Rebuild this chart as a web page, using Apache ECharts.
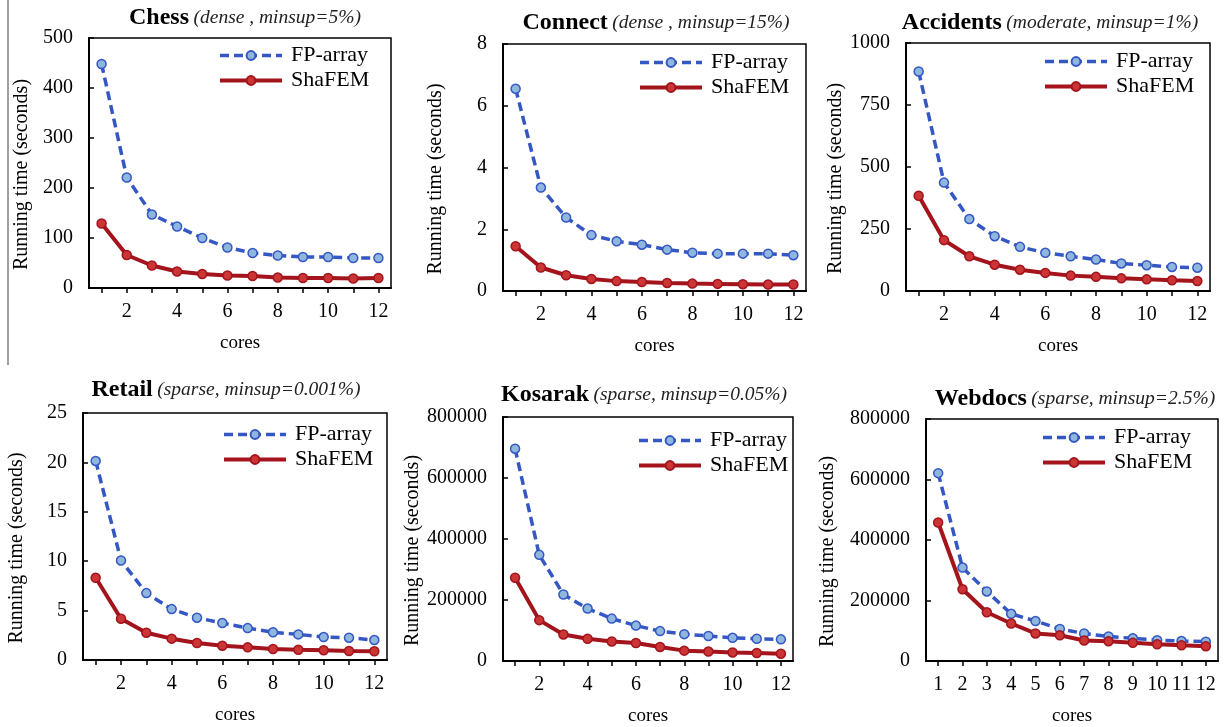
<!DOCTYPE html>
<html>
<head>
<meta charset="utf-8">
<script src="https://cdn.jsdelivr.net/npm/echarts@6/dist/echarts.min.js"></script>
<style>
html,body{margin:0;padding:0;background:#fff;}
#c{width:1230px;height:727px;}
</style>
</head>
<body>
<div id="c"></div>
<script>
// ---- data ----
const cores = ['1','2','3','4','5','6','7','8','9','10','11','12'];
const seriesNames = ['FP-array', 'ShaFEM'];

const chessFP = [448, 221, 147, 123, 100, 81, 70, 65, 62, 62, 60, 60];
const chessSha = [129, 66, 45, 33, 28, 25, 24, 21, 20, 20, 19, 20];

const connectFP = [6.55, 3.35, 2.38, 1.81, 1.61, 1.50, 1.34, 1.24, 1.21, 1.21, 1.21, 1.16];
const connectSha = [1.45, 0.76, 0.51, 0.39, 0.32, 0.29, 0.26, 0.24, 0.23, 0.22, 0.21, 0.21];

const accidentsFP = [885, 437, 290, 221, 178, 154, 140, 127, 111, 104, 97, 94];
const accidentsSha = [384, 205, 140, 106, 86, 73, 62, 57, 51, 47, 43, 40];

const retailFP = [20.15, 10.07, 6.77, 5.15, 4.28, 3.74, 3.23, 2.80, 2.59, 2.32, 2.26, 2.02];
const retailSha = [8.32, 4.18, 2.76, 2.16, 1.72, 1.45, 1.28, 1.11, 1.04, 0.98, 0.91, 0.88];

const kosarakFP = [696000, 348000, 218000, 172000, 139000, 116000, 98000, 88000, 82000, 76000, 73000, 71000];
const kosarakSha = [273000, 134000, 87000, 73000, 64000, 59000, 46000, 34000, 31000, 28000, 26000, 24000];

const webdocsFP = [621000, 309000, 230000, 156000, 132000, 106000, 91000, 81000, 75000, 69000, 66000, 64000];
const webdocsSha = [458000, 237000, 161000, 124000, 91000, 85000, 68000, 65000, 60000, 55000, 52000, 49000];

const panelTitles = ['Chess', 'Connect', 'Accidents', 'Retail', 'Kosarak', 'Webdocs'];
const panelSubtitles = ['(dense , minsup=5%)', '(dense , minsup=15%)', '(moderate, minsup=1%)',
  '(sparse, minsup=0.001%)', '(sparse, minsup=0.05%)', '(sparse, minsup=2.5%)'];
const yMax = [500, 8, 1000, 25, 800000, 800000];
const yStep = [100, 2, 250, 5, 200000, 200000];
const xAxisName = 'cores';
const yAxisName = 'Running time (seconds)';

// ---- layout (styling only) ----
const FONT = 'Liberation Serif';
const panels = [
  {grid:{left:89, top:38, width:302, height:250}, title:[245,18], legend:[218,43], ygap:57, every:2, fp:chessFP, sha:chessSha},
  {grid:{left:503, top:44, width:303, height:247}, title:[656,23], legend:[638,50], ygap:57, every:2, fp:connectFP, sha:connectSha},
  {grid:{left:906, top:43, width:304, height:248}, title:[1050,23], legend:[1043,49], ygap:58, every:2, fp:accidentsFP, sha:accidentsSha},
  {grid:{left:83, top:413, width:304, height:247}, title:[226,390], legend:[222,422], ygap:56, every:2, fp:retailFP, sha:retailSha},
  {grid:{left:503, top:417, width:290, height:245}, title:[644,395], legend:[637,428], ygap:73, every:2, fp:kosarakFP, sha:kosarakSha},
  {grid:{left:926, top:419, width:292, height:244}, title:[1075,399], legend:[1041,425], ygap:88, every:1, fp:webdocsFP, sha:webdocsSha}
];

const BLUE = '#3457c4', BLUE_FILL = '#8fb7dd';
const RED = '#a3141c', RED_FILL = '#cc3535';

const option = {
  animation: false,
  backgroundColor: '#fff',
  textStyle: {fontFamily: FONT},
  title: [], legend: [], grid: [], xAxis: [], yAxis: [], series: [],
  graphic: [{
    type: 'line', shape: {x1: 8, y1: 0, x2: 8, y2: 365},
    style: {stroke: '#808080', lineWidth: 1.5}
  }]
};

panels.forEach((p, i) => {
  option.grid.push(Object.assign({show: true, borderColor: '#000', borderWidth: 1.5, backgroundColor: 'transparent', containLabel: false}, p.grid));
  option.title.push({
    text: '{b|' + panelTitles[i] + '} {i|' + panelSubtitles[i] + '}',
    left: p.title[0], top: p.title[1], padding: 0,
    textAlign: 'center', textVerticalAlign: 'middle',
    textStyle: {
      fontWeight: 'normal',
      rich: {
        b: {fontFamily: FONT, fontWeight: 'bold', fontSize: 24, color: '#000'},
        i: {fontFamily: FONT, fontWeight: 'normal', fontStyle: 'italic', fontSize: 19.5, color: '#222'}
      }
    }
  });
  option.legend.push({
    data: [
      {name: seriesNames[0], lineStyle: {width: 3.5}},
      {name: seriesNames[1], lineStyle: {width: 4}}
    ],
    orient: 'vertical',
    left: p.legend[0], top: p.legend[1], padding: 0,
    itemWidth: 62, itemHeight: 11, itemGap: 0,
    selectedMode: false,
    lineStyle: {width: 3.5},
    textStyle: {fontFamily: FONT, fontSize: 22, color: '#000', lineHeight: 25, padding: [0, 0, 0, 4]}
  });
  option.xAxis.push({
    type: 'category', gridIndex: i, data: cores, boundaryGap: true,
    name: xAxisName, nameLocation: 'middle', nameGap: 46,
    nameTextStyle: {fontFamily: FONT, fontSize: 19, color: '#000'},
    axisLine: {lineStyle: {color: '#000', width: 2}},
    axisTick: {show: true, interval: 0, alignWithLabel: true, inside: false, length: 5, lineStyle: {color: '#000', width: 1.5}},
    axisLabel: {
      interval: p.every === 1 ? 0 : function (idx) { return idx % 2 === 1; },
      fontFamily: FONT, fontSize: 20, color: '#000', margin: 14
    },
    splitLine: {show: false}
  });
  option.yAxis.push({
    type: 'value', gridIndex: i, min: 0, max: yMax[i], interval: yStep[i],
    name: yAxisName, nameLocation: 'middle', nameGap: p.ygap, nameRotate: 90,
    nameTextStyle: {fontFamily: FONT, fontSize: 20, color: '#000', padding: [0, 23, 0, 0]},
    axisLine: {show: true, lineStyle: {color: '#000', width: 2}},
    axisTick: {show: true, inside: true, length: 5, lineStyle: {color: '#000', width: 1.5}},
    axisLabel: {fontFamily: FONT, fontSize: 20, color: '#000', margin: 16,
      formatter: function (v) { return String(v); }},
    splitLine: {show: false}
  });
  option.series.push({
    name: seriesNames[0], type: 'line', xAxisIndex: i, yAxisIndex: i,
    data: p.fp, symbol: 'circle', symbolSize: 9,
    lineStyle: {color: BLUE, width: 3.5, type: [9, 5]},
    itemStyle: {color: BLUE_FILL, borderColor: BLUE, borderWidth: 1.5},
    z: 3
  });
  option.series.push({
    name: seriesNames[1], type: 'line', xAxisIndex: i, yAxisIndex: i,
    data: p.sha, symbol: 'circle', symbolSize: 9,
    lineStyle: {color: RED, width: 4},
    itemStyle: {color: RED_FILL, borderColor: RED, borderWidth: 1.5},
    z: 4
  });
});

const chart = echarts.init(document.getElementById('c'), null, {renderer: 'canvas'});
chart.setOption(option);
</script>
</body>
</html>
